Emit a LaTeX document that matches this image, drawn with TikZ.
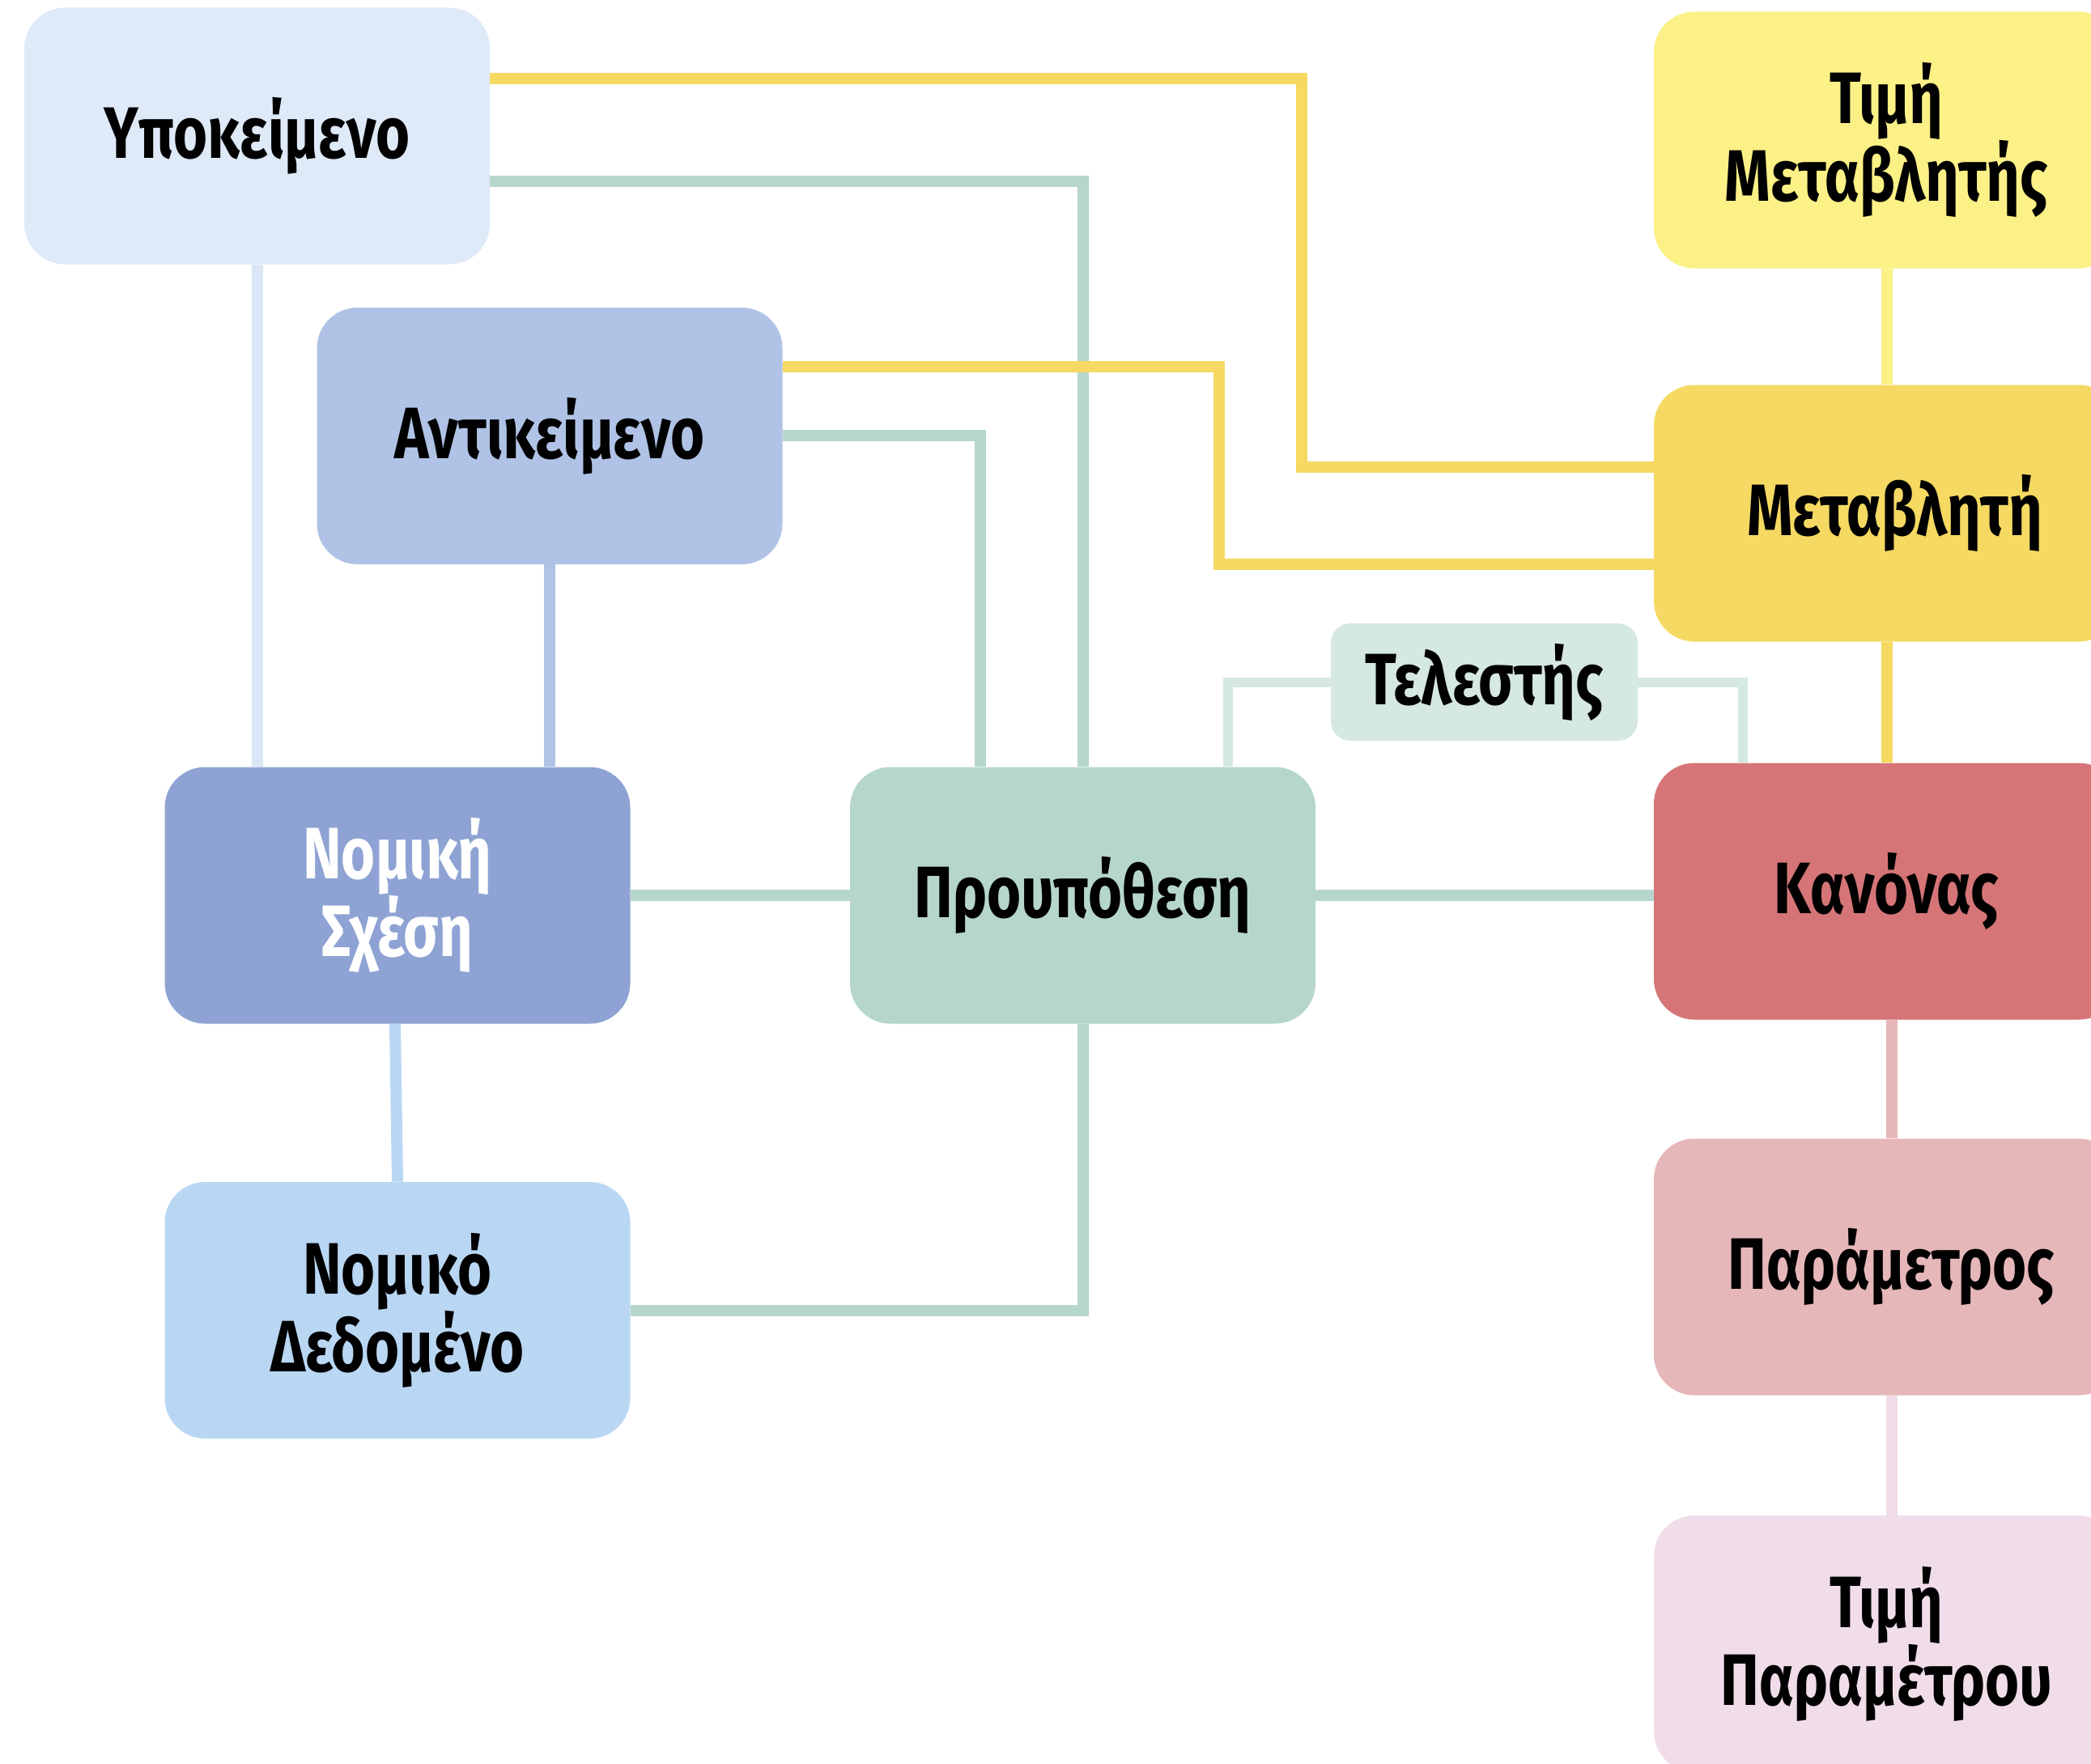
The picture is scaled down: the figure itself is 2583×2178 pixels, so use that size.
\documentclass[tikz,border=0pt]{standalone}
\usepackage{fontspec}
\newfontfamily\lblfont[FakeStretch=0.8]{Fira Sans}
\usetikzlibrary{backgrounds}
\definecolor{cYpo}{HTML}{DFEAF8}
\definecolor{cAnti}{HTML}{B0C3E6}
\definecolor{cNS}{HTML}{8EA3D3}
\definecolor{cND}{HTML}{B9D7F3}
\definecolor{cProu}{HTML}{B6D6CD}
\definecolor{cTel}{HTML}{D5E8E1}
\definecolor{cTM}{HTML}{FBF186}
\definecolor{cMet}{HTML}{F5D962}
\definecolor{cKan}{HTML}{D57577}
\definecolor{cPar}{HTML}{E6B7B9}
\definecolor{cTP}{HTML}{F1DDE9}
\tikzset{
  box/.style={rectangle, rounded corners=25pt, minimum width=287.5pt, minimum height=158.5pt,
    inner sep=0pt, align=center, text=black,
    font=\lblfont\bfseries\fontsize{45}{48}\selectfont},
  smallbox/.style={box, rounded corners=12pt, minimum width=189.5pt, minimum height=72.5pt},
  link/.style={line width=7pt},
  thinlink/.style={line width=6pt, draw=cTel},
}
\begin{document}
\begin{tikzpicture}[x=0.5pt,y=-0.5pt]
\useasboundingbox (0,0) rectangle (2583,2178);
\clip (0,0) rectangle (2583,2178);
\node[box, fill=cYpo] (ypo) at (317.5,168) {Υποκείμενο};
\node[box, fill=cAnti] (anti) at (679,538.5) {Αντικείμενο};
\node[box, fill=cNS, text=white] (ns) at (491,1106) {Νομική\\Σχέση};
\node[box, fill=cND] (nd) at (491,1618.5) {Νομικό\\Δεδομένο};
\node[box, fill=cProu] (prou) at (1337.5,1106) {Προυπόθεση};
\node[smallbox, fill=cTel] (tel) at (1833.5,842.5) {Τελεστής};
\node[box, fill=cTM] (tm) at (2330.5,173) {Τιμή\\Μεταβλητής};
\node[box, fill=cMet] (met) at (2330.5,634) {\hspace*{10pt}Μεταβλητή};
\node[box, fill=cKan] (kan) at (2330.5,1101) {Κανόνας};
\node[box, fill=cPar] (par) at (2330.5,1565) {\hspace*{6pt}Παράμετρος};
\node[box, fill=cTP] (tp) at (2330.5,2030.5) {Τιμή\\Παραμέτρου};
\begin{scope}[on background layer]
\draw[link, draw=cMet] (ypo.east |- 0,97) -| (1608,576.5) -- (met.west |- 0,576.5);
\draw[link, draw=cProu] (ypo.east |- 0,224) -| (prou.north);
\draw[link, draw=cMet] (anti.east |- 0,453) -| (1506,697) -- (met.west |- 0,697);
\draw[link, draw=cProu] (anti.east |- 0,538) -| (prou.north -| 1211,0);
\draw[link, draw=cYpo!90!cAnti] (ypo.south) -- (ypo.south |- ns.north);
\draw[link, draw=cAnti] (anti.south) -- (anti.south |- ns.north);
\draw[link, draw=cND] (ns.south -| 488,0) -- (nd.north);
\draw[link, draw=cProu] (ns.east) -- (prou.west);
\draw[link, draw=cProu] (nd.east) -| (prou.south);
\draw[link, draw=cProu] (prou.east) -- (kan.west |- prou.east);
\draw[thinlink] (prou.north -| 1517,0) |- (tel.west);
\draw[thinlink] (tel.east) -| (kan.north -| 2153,0);
\draw[link, draw=cTM] (tm.south) -- (met.north);
\draw[link, draw=cMet] (met.south) -- (kan.north);
\draw[link, draw=cPar] (kan.south -| 2337,0) -- (par.north -| 2337,0);
\draw[link, draw=cTP] (par.south -| 2337,0) -- (tp.north -| 2337,0);
\end{scope}
\end{tikzpicture}
\end{document}
